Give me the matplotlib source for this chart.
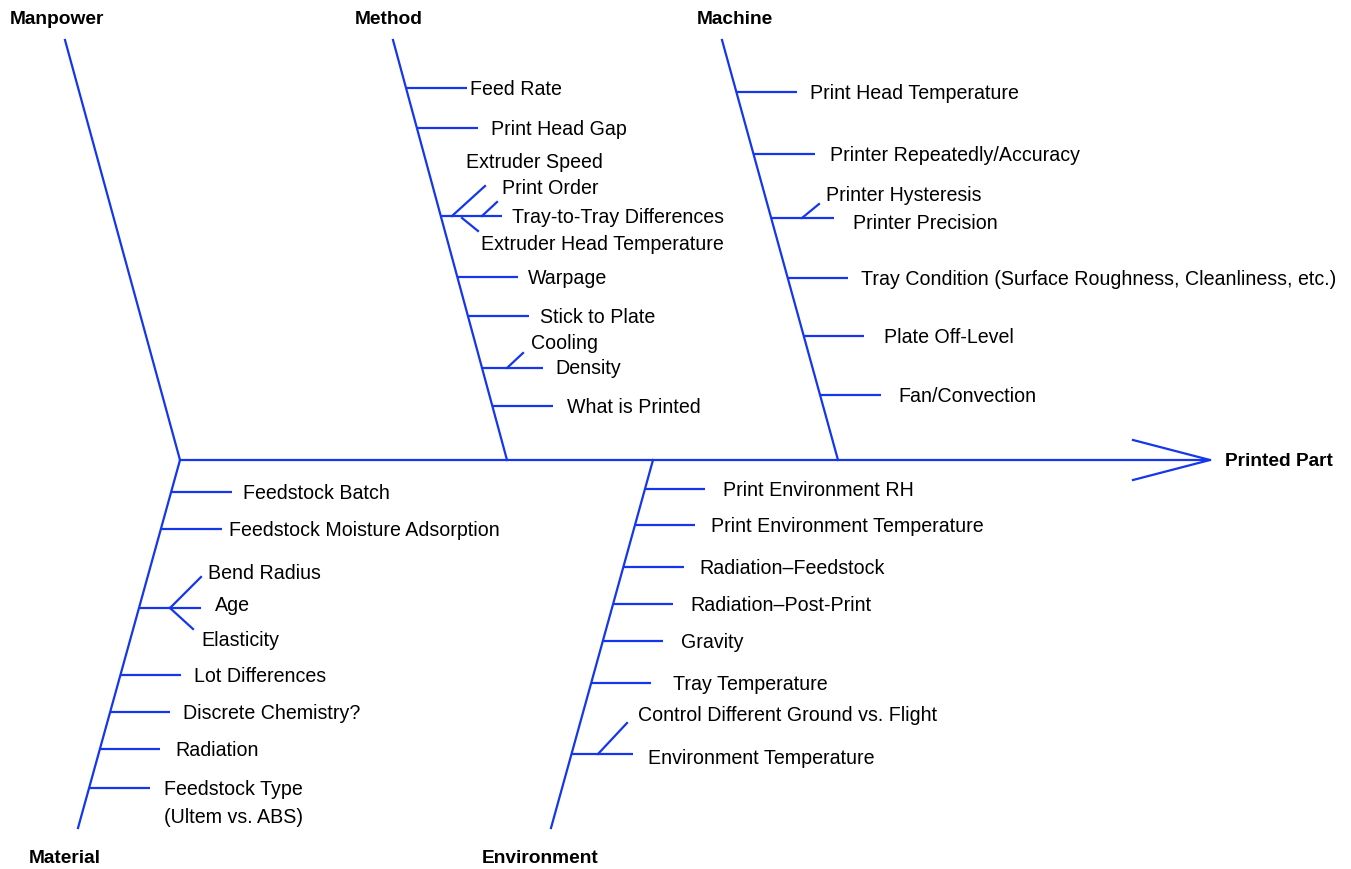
#!/usr/bin/env python3
"""Fishbone (cause and effect) diagram for printed part quality."""

import matplotlib.pyplot as plt

# Data
EFFECT = "Printed Part"
CATEGORIES = ["Manpower", "Method", "Machine", "Material", "Environment"]

METHOD_CAUSES = ["Feed Rate", "Print Head Gap", "Warpage", "Stick to Plate", "What is Printed"]
METHOD_GROUP_A = ["Extruder Speed", "Print Order", "Tray-to-Tray Differences", "Extruder Head Temperature"]
METHOD_GROUP_B = ["Cooling", "Density"]

MACHINE_CAUSES = ["Print Head Temperature", "Printer Repeatedly/Accuracy",
                  "Tray Condition (Surface Roughness, Cleanliness, etc.)",
                  "Plate Off-Level", "Fan/Convection"]
MACHINE_GROUP = ["Printer Hysteresis", "Printer Precision"]

MATERIAL_CAUSES = ["Feedstock Batch", "Feedstock Moisture Adsorption", "Lot Differences",
                   "Discrete Chemistry?", "Radiation", "Feedstock Type\n(Ultem vs. ABS)"]
MATERIAL_GROUP = ["Bend Radius", "Age", "Elasticity"]

ENV_CAUSES = ["Print Environment RH", "Print Environment Temperature", "Radiation\u2013Feedstock",
              "Radiation\u2013Post-Print", "Gravity", "Tray Temperature"]
ENV_GROUP = ["Control Different Ground vs. Flight", "Environment Temperature"]

# Layout (pixel space, y downwards)
BLUE = "#1436ec"
LW = 1.6
FS = 14.1
BOLD_FS = 13.8
TEXT_DY = 1.5
LINE_GAP = 28
FAMILY = ["Liberation Sans", "DejaVu Sans"]
BOLD_FAMILY = ["Liberation Sans", "DejaVu Sans"]

SPINE_Y = 460
SPINE_X = (180, 1210)

# bone: (outer end), (spine end)
BONES = {
    "Manpower": ((65, 40), (180, SPINE_Y)),
    "Method": ((393, 40), (507, SPINE_Y)),
    "Machine": ((722, 40), (838, SPINE_Y)),
    "Material": ((78, 828), (180, SPINE_Y)),
    "Environment": ((551, 828), (653, SPINE_Y)),
}
LABEL_POS = {
    "Manpower": (57, 18),
    "Method": (389, 18),
    "Machine": (735, 18),
    "Material": (65, 857),
    "Environment": (540, 857),
}

# rib layout: (y, rib end x, text x)
METHOD_RIBS = [(88, 467, 470), (128, 478, 491), (277, 518, 528), (316, 529, 540), (406, 553, 567)]
MACHINE_RIBS = [(92, 797, 810), (154, 815, 830), (278, 848, 861), (336, 864, 884), (395, 881, 898)]
MATERIAL_RIBS = [(492, 232, 243), (529, 222, 229), (675, 181, 194), (712, 170, 183),
                 (749, 160, 175), (788, 150, 164)]
ENV_RIBS = [(489, 705, 723), (525, 695, 711), (567, 684, 699), (604, 673, 690),
            (641, 663, 681), (683, 651, 673)]

# grouped ribs: bone, rib y, rib end x, branches [(x0, y0, x1, y1)], text positions
GROUPS = [
    ("Method", 216, 502, [(452, 216, 485, 186), (482, 216, 497, 202), (462, 218, 478, 231)],
     METHOD_GROUP_A, [(466, 161), (502, 187), (512, 216), (481, 243)]),
    ("Method", 368, 543, [(507, 368, 523, 353)],
     METHOD_GROUP_B, [(531, 342), (555, 367)]),
    ("Machine", 218, 834, [(802, 218, 819, 204)],
     MACHINE_GROUP, [(826, 194), (853, 222)]),
    ("Material", 608, 201, [(170, 608, 201, 577), (170, 608, 193, 629)],
     MATERIAL_GROUP, [(208, 572), (215, 604), (201, 639)]),
    ("Environment", 754, 633, [(598, 754, 627, 723)],
     ENV_GROUP, [(638, 714), (648, 757)]),
]


def bone_x(name, y):
    (x0, y0), (x1, y1) = BONES[name]
    return x0 + (y - y0) * (x1 - x0) / (y1 - y0)


def put_text(ax, x, y, label):
    for i, line in enumerate(label.split("\n")):
        ax.text(x, y + TEXT_DY + i * LINE_GAP, line, fontsize=FS, family=FAMILY,
                va="center", ha="left")


def draw_ribs(ax, name, causes, ribs):
    for label, (y, x_end, x_text) in zip(causes, ribs):
        ax.plot([bone_x(name, y), x_end], [y, y], color=BLUE, lw=LW, solid_capstyle="butt")
        put_text(ax, x_text, y, label)


def main():
    fig = plt.figure(figsize=(13.51, 8.69), dpi=100)
    ax = fig.add_axes([0, 0, 1, 1])
    ax.set_xlim(0, 1351)
    ax.set_ylim(869, 0)
    ax.axis("off")

    # spine and arrow head
    ax.plot(SPINE_X, [SPINE_Y, SPINE_Y], color=BLUE, lw=LW)
    tip = SPINE_X[1]
    ax.plot([tip - 77, tip, tip - 77], [SPINE_Y - 20, SPINE_Y, SPINE_Y + 20], color=BLUE, lw=LW)
    ax.text(1225, SPINE_Y + TEXT_DY, EFFECT, fontsize=BOLD_FS, family=BOLD_FAMILY, weight="bold",
            va="center", ha="left")

    # bones and category labels
    for name in CATEGORIES:
        (x0, y0), (x1, y1) = BONES[name]
        ax.plot([x0, x1], [y0, y1], color=BLUE, lw=LW)
        lx, ly = LABEL_POS[name]
        ax.text(lx, ly + TEXT_DY, name, fontsize=BOLD_FS, family=BOLD_FAMILY, weight="bold",
                va="center", ha="center")

    draw_ribs(ax, "Method", METHOD_CAUSES, METHOD_RIBS)
    draw_ribs(ax, "Machine", MACHINE_CAUSES, MACHINE_RIBS)
    draw_ribs(ax, "Material", MATERIAL_CAUSES, MATERIAL_RIBS)
    draw_ribs(ax, "Environment", ENV_CAUSES, ENV_RIBS)

    for name, y, x_end, branches, labels, positions in GROUPS:
        ax.plot([bone_x(name, y), x_end], [y, y], color=BLUE, lw=LW, solid_capstyle="butt")
        for x0, y0, x1, y1 in branches:
            ax.plot([x0, x1], [y0, y1], color=BLUE, lw=LW)
        for label, (tx, ty) in zip(labels, positions):
            put_text(ax, tx, ty, label)

    fig.savefig("out.png", dpi=100)
    plt.close(fig)


if __name__ == "__main__":
    main()
